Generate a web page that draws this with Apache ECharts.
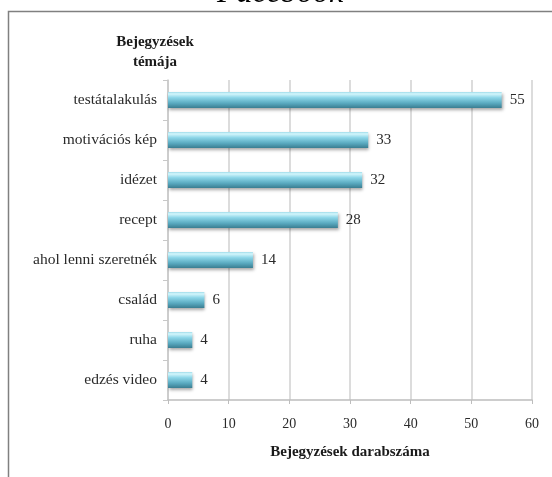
<!DOCTYPE html>
<html>
<head>
<meta charset="utf-8">
<script src="https://cdn.jsdelivr.net/npm/echarts@6/dist/echarts.min.js"></script>
<style>
html,body{margin:0;padding:0;background:#fff;}
#c{width:552px;height:477px;}
</style>
</head>
<body>
<div id="c"></div>
<script>
var categories = ['testátalakulás','motivációs kép','idézet','recept','ahol lenni szeretnék','család','ruha','edzés video'];
var values = [55, 33, 32, 28, 14, 6, 4, 4];
var xTicks = [0, 10, 20, 30, 40, 50, 60];
var titleText = 'Facebook';
var xAxisName = 'Bejegyzések darabszáma';
var yAxisName = 'Bejegyzések\ntémája';

var serif = "'Liberation Serif','Times New Roman','DejaVu Serif',serif";
var chart = echarts.init(document.getElementById('c'), null, {renderer:'canvas'});
chart.setOption({
  animation: false,
  backgroundColor: '#fff',
  graphic: [
    {type:'polyline', shape:{points:[[8.5,477],[8.5,11.5],[552,11.5]]}, style:{stroke:'#808080', lineWidth:1.5, fill:null}},
    {type:'text', x:280, y:10, style:{text:titleText, font:"italic 32px " + serif, fill:'#000', align:'center', verticalAlign:'bottom'}},
    {type:'text', x:155, y:52, style:{text:yAxisName, font:"bold 15px " + serif, fill:'#1a1a1a', align:'center', verticalAlign:'middle', lineHeight:20}}
  ],
  grid: {left:168, right:20, top:80, bottom:77, containLabel:false},
  xAxis: {
    type:'value', min:0, max:60, interval:10,
    axisLine:{show:true, lineStyle:{color:'#bdbdbd', width:1.5}},
    axisTick:{show:true, length:4, lineStyle:{color:'#bdbdbd'}},
    axisLabel:{fontFamily:serif, fontSize:14, color:'#2a2a2a', margin:17,
      formatter:function(v){return xTicks.indexOf(v)>=0 ? String(v) : '';}},
    splitLine:{show:true, lineStyle:{color:'#d0d0d0', width:1.5}},
    name: xAxisName, nameLocation:'middle', nameGap:45,
    nameTextStyle:{fontFamily:serif, fontWeight:'bold', fontSize:15, color:'#1a1a1a'}
  },
  yAxis: {
    type:'category', data:categories, inverse:true,
    axisLine:{show:true, lineStyle:{color:'#c8c8c8', width:1.5}},
    axisTick:{show:true, length:5, lineStyle:{color:'#c8c8c8'}},
    axisLabel:{fontFamily:serif, fontSize:15.5, color:'#2a2a2a', margin:11}
  },
  series: [{
    type:'bar', data:values, barWidth:16,
    itemStyle:{
      color: new echarts.graphic.LinearGradient(0,0,0,1,[
        {offset:0, color:'#9fdcea'},
        {offset:0.12, color:'#d3f6fc'},
        {offset:0.35, color:'#8dd6e8'},
        {offset:0.7, color:'#5aaac0'},
        {offset:1, color:'#3a7d91'}
      ]),
      shadowColor:'rgba(0,0,0,0.35)', shadowBlur:3, shadowOffsetY:2, shadowOffsetX:1
    },
    label:{show:true, position:'right', distance:8, fontFamily:serif, fontSize:15, color:'#2a2a2a'}
  }]
});
</script>
</body>
</html>
